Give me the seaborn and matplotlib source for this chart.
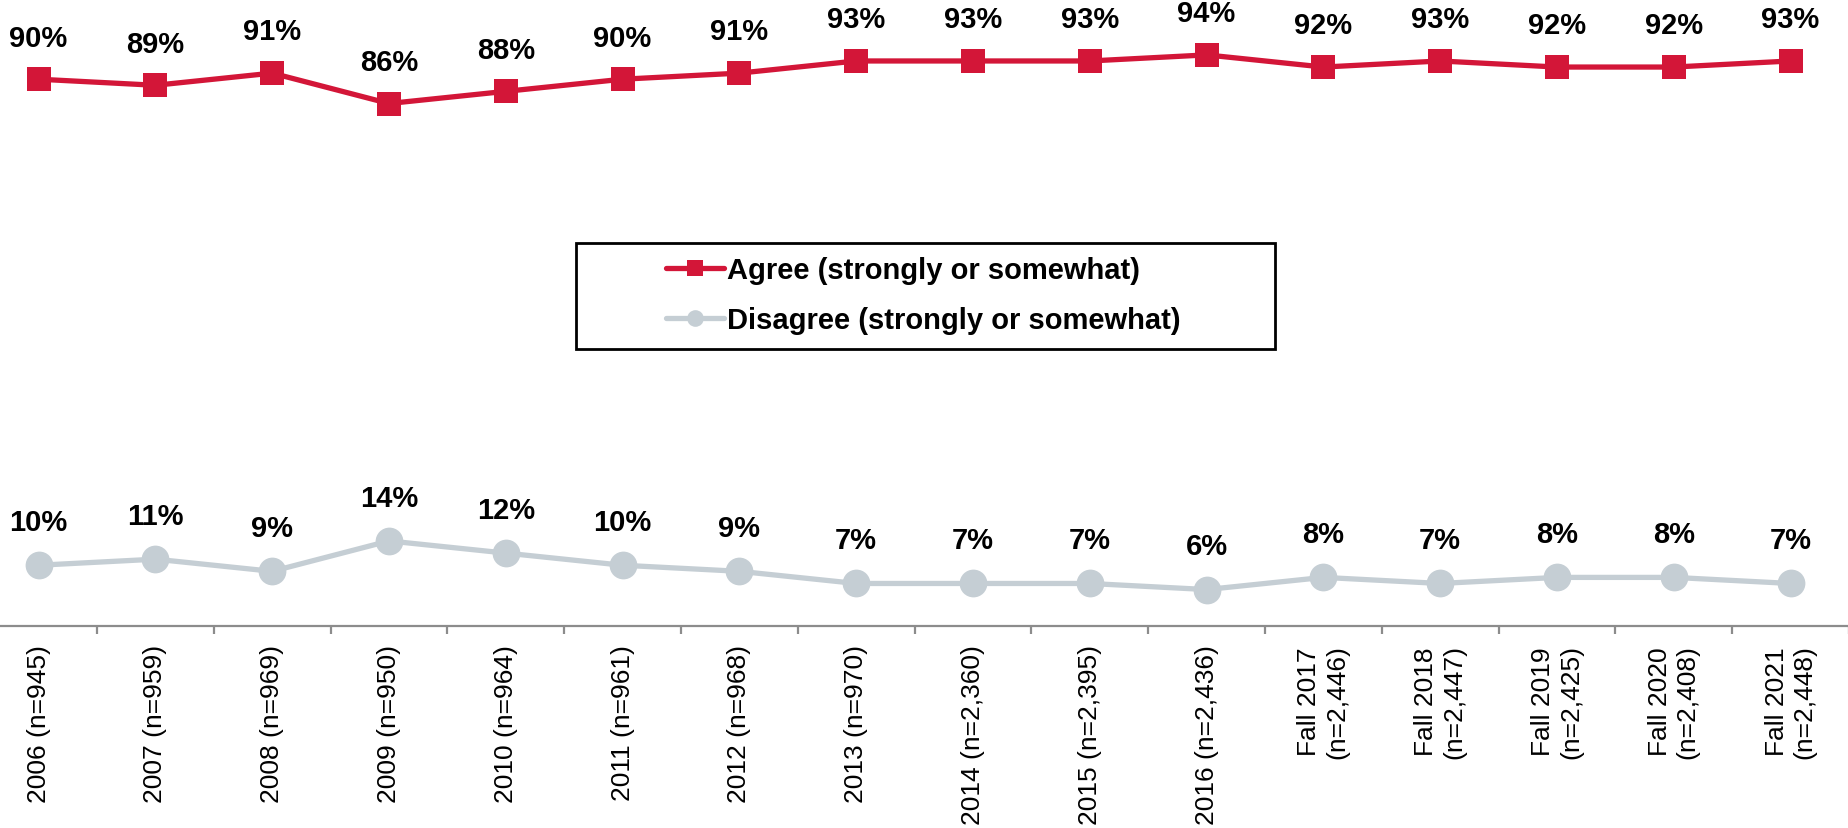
import matplotlib
matplotlib.use("Agg")
import matplotlib.pyplot as plt
import pandas as pd
import seaborn as sns
from matplotlib.lines import Line2D
from matplotlib.patches import Rectangle

# --- data ---
periods = [
    "2006 (n=945)", "2007 (n=959)", "2008 (n=969)", "2009 (n=950)",
    "2010 (n=964)", "2011 (n=961)", "2012 (n=968)", "2013 (n=970)",
    "2014 (n=2,360)", "2015 (n=2,395)", "2016 (n=2,436)",
    "Fall 2017\n(n=2,446)", "Fall 2018\n(n=2,447)", "Fall 2019\n(n=2,425)",
    "Fall 2020\n(n=2,408)", "Fall 2021\n(n=2,448)",
]
agree = [90, 89, 91, 86, 88, 90, 91, 93, 93, 93, 94, 92, 93, 92, 92, 93]
disagree = [10, 11, 9, 14, 12, 10, 9, 7, 7, 7, 6, 8, 7, 8, 8, 7]
series_names = ["Agree (strongly or somewhat)", "Disagree (strongly or somewhat)"]

RED = "#D31638"
GRAY = "#C5CED4"

sns.set_style("white")
plt.rcParams["font.family"] = ["Liberation Sans", "DejaVu Sans"]
plt.rcParams["text.color"] = "black"
plt.rcParams["xtick.color"] = "black"

df = pd.DataFrame({"period": periods, "agree": agree, "disagree": disagree})
df["pos"] = range(len(df))

fig = plt.figure(figsize=(18.49, 8.29), dpi=100)
ax = fig.add_axes([0, 202 / 829, 1, 627 / 829])

sns.lineplot(data=df, x="pos", y="agree", ax=ax, color=RED, linewidth=3.8,
             marker="s", markersize=17, markeredgewidth=0, sort=False)
sns.lineplot(data=df, x="pos", y="disagree", ax=ax, color=GRAY, linewidth=3.8,
             marker="o", markersize=20, markeredgewidth=0, sort=False)

# value labels
for x, a, d in zip(df["pos"], agree, disagree):
    ax.annotate(f"{a}%", (x, a), xytext=(0, 30), textcoords="offset points",
                ha="center", va="center", fontsize=21, fontweight="bold",
                color="black")
    ax.annotate(f"{d}%", (x, d), xytext=(0, 31), textcoords="offset points",
                ha="center", va="center", fontsize=21, fontweight="bold",
                color="black")

ax.set_xlim(-0.33, 15.32)
ax.set_ylim(0, 103.2)
ax.set_yticks([])
ax.set_xlabel("")
ax.set_ylabel("")
for side in ["left", "right", "top"]:
    ax.spines[side].set_visible(False)
ax.spines["bottom"].set_color("#8C8C8C")
ax.spines["bottom"].set_linewidth(1.6)

ax.set_xticks(df["pos"])
ax.set_xticklabels(periods, rotation=90, ha="center", va="top",
                   multialignment="center", fontsize=19, color="black")
ax.set_xticks([p + 0.5 for p in df["pos"]], minor=True)
ax.tick_params(axis="x", which="major", length=0, pad=13)
ax.tick_params(axis="x", which="minor", length=6, width=1.6, color="#8C8C8C",
               direction="out", bottom=True)

# legend with a wide frame like the original
handles = [
    Line2D([], [], color=RED, linewidth=3.8, marker="s", markersize=11, markeredgewidth=0),
    Line2D([], [], color=GRAY, linewidth=3.8, marker="o", markersize=12, markeredgewidth=0),
]
fig.legend(handles, series_names, loc="center left",
           bbox_to_anchor=(666 / 1849, 1 - 296 / 829), bbox_transform=fig.transFigure,
           frameon=False, handlelength=2.0, handletextpad=0.1,
           labelspacing=0.75, borderpad=0, borderaxespad=0,
           prop={"size": 21, "weight": "bold"})
fig.patches.append(Rectangle((576 / 1849, 1 - 350 / 829), (1275 - 576) / 1849,
                             106 / 829, transform=fig.transFigure, fill=False,
                             edgecolor="black", linewidth=2))

fig.savefig("out.png", dpi=100)
